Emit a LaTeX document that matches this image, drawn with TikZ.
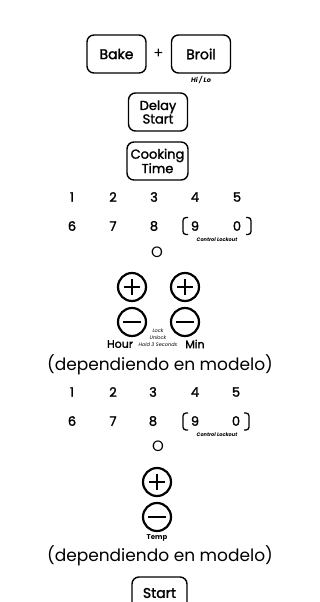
\documentclass[tikz,border=0pt]{standalone}
\usepackage{fontspec}
\setmainfont{Poppins}
\newfontfamily\medfont{Poppins}[FakeBold=1.6]
\begin{document}
\begin{tikzpicture}[x=1pt,y=-1pt,
  btn/.style={draw, line width=1.4pt, rounded corners=7pt, minimum width=59pt, minimum height=38pt, inner sep=0pt, align=center, font=\fontsize{14}{14}\medfont},
  num/.style={inner sep=0pt, font=\fontsize{13}{13}\medfont},
  tiny/.style={inner sep=0pt, font=\fontsize{5}{5}\selectfont\bfseries\itshape},
  small/.style={inner sep=0pt, font=\fontsize{11}{11}\medfont},
  dep/.style={inner sep=0pt, font=\fontsize{17}{17}\selectfont},
  ring/.style={circle, draw, line width=2.2pt, minimum size=28pt, inner sep=0pt},
  plusbtn/.style={ring, path picture={\draw[line width=2pt]
      ([xshift=-8pt]path picture bounding box.center) -- ([xshift=8pt]path picture bounding box.center)
      ([yshift=-8pt]path picture bounding box.center) -- ([yshift=8pt]path picture bounding box.center);}},
  minusbtn/.style={ring, path picture={\draw[line width=2pt]
      ([xshift=-9pt]path picture bounding box.center) -- ([xshift=9pt]path picture bounding box.center);}},
  bracket/.style={line width=1.3pt, rounded corners=3pt},
  letter/.style={inner sep=0pt, font=\fontsize{15}{15}\selectfont}
]
\useasboundingbox (0,0) rectangle (320,602);
\clip (0,0) rectangle (320,602);
\fill[white] (0,0) rectangle (320,602);

% top buttons
\node[btn] (bake) at (116.5,54) {Bake};
\node[btn] (broil) at (201,54) {Broil};
\node[inner sep=0pt, font=\fontsize{15}{15}\selectfont] (plus) at (158.5,54) {+};
\node[inner sep=0pt, font=\fontsize{6.5}{6.5}\selectfont\bfseries\itshape] (hilo) at (201,80) {Hi / Lo};
\node[btn, font=\fontsize{13}{12.5}\medfont] (delay) at (158,112) {Delay\\Start};
\node[btn, font=\fontsize{13}{12.5}\medfont, minimum width=61pt] (cook) at (157.5,161) {Cooking\\Time};

% first keypad
\node[num] (a1) at (72,197) {1};
\node[num] (a2) at (113,197) {2};
\node[num] (a3) at (154,197) {3};
\node[num] (a4) at (195,197) {4};
\node[num] (a5) at (237,197) {5};
\node[num] (a6) at (72,226) {6};
\node[num] (a7) at (113,226) {7};
\node[num] (a8) at (154,226) {8};
\node[num] (a9) at (195,226) {9};
\node[num] (a0) at (237,226) {0};
\coordinate (aL) at (183,226);
\coordinate (aR) at (251,226);
\draw[bracket] ([xshift=5pt,yshift=8.5pt]aL) -- ([yshift=8.5pt]aL) -- ([yshift=-8.5pt]aL) -- ([xshift=5pt,yshift=-8.5pt]aL);
\draw[bracket] ([xshift=-5pt,yshift=8.5pt]aR) -- ([yshift=8.5pt]aR) -- ([yshift=-8.5pt]aR) -- ([xshift=-5pt,yshift=-8.5pt]aR);
\node[tiny] (acl) at (217,240) {Control Lockout};
\node[letter] (ao) at (157,252) {O};

% hour / min
\node[plusbtn] (hp) at (132,287) {};
\node[plusbtn] (mp) at (185,287) {};
\node[minusbtn] (hm) at (132,322) {};
\node[minusbtn] (mm) at (185,322) {};
\node[small] (hour) at (120,344) {Hour};
\node[small] (min) at (195,344) {Min};
\node[tiny, font=\fontsize{5}{5}\selectfont\itshape] (lock) at (158,331) {Lock};
\node[tiny, font=\fontsize{5}{5}\selectfont\itshape] (unlock) at (158,338) {Unlock};
\node[tiny, font=\fontsize{5}{5}\selectfont\itshape] (hold) at (158,345) {Hold 3 Seconds};

\node[dep] (dep1) at (160,365) {(dependiendo en modelo)};

% second keypad
\node[num] (b1) at (72,392) {1};
\node[num] (b2) at (113,392) {2};
\node[num] (b3) at (153,392) {3};
\node[num] (b4) at (195,392) {4};
\node[num] (b5) at (236,392) {5};
\node[num] (b6) at (72,421) {6};
\node[num] (b7) at (113,421) {7};
\node[num] (b8) at (153,421) {8};
\node[num] (b9) at (195,421) {9};
\node[num] (b0) at (236,421) {0};
\coordinate (bL) at (183,421.5);
\coordinate (bR) at (249,421.5);
\draw[bracket] ([xshift=5pt,yshift=8.5pt]bL) -- ([yshift=8.5pt]bL) -- ([yshift=-8.5pt]bL) -- ([xshift=5pt,yshift=-8.5pt]bL);
\draw[bracket] ([xshift=-5pt,yshift=8.5pt]bR) -- ([yshift=8.5pt]bR) -- ([yshift=-8.5pt]bR) -- ([xshift=-5pt,yshift=-8.5pt]bR);
\node[tiny] (bcl) at (217,435) {Control Lockout};
\node[letter] (bo) at (158,446) {O};

% temp
\node[plusbtn] (tp) at (157,482) {};
\node[minusbtn] (tm) at (157,517) {};
\node[inner sep=0pt, font=\fontsize{7}{7}\selectfont\bfseries] (temp) at (157,538) {Temp};

\node[dep] (dep2) at (160,556) {(dependiendo en modelo)};

% start
\node[btn, minimum width=55pt, minimum height=32pt] (start) at (159.5,593) {Start};
\end{tikzpicture}
\end{document}
